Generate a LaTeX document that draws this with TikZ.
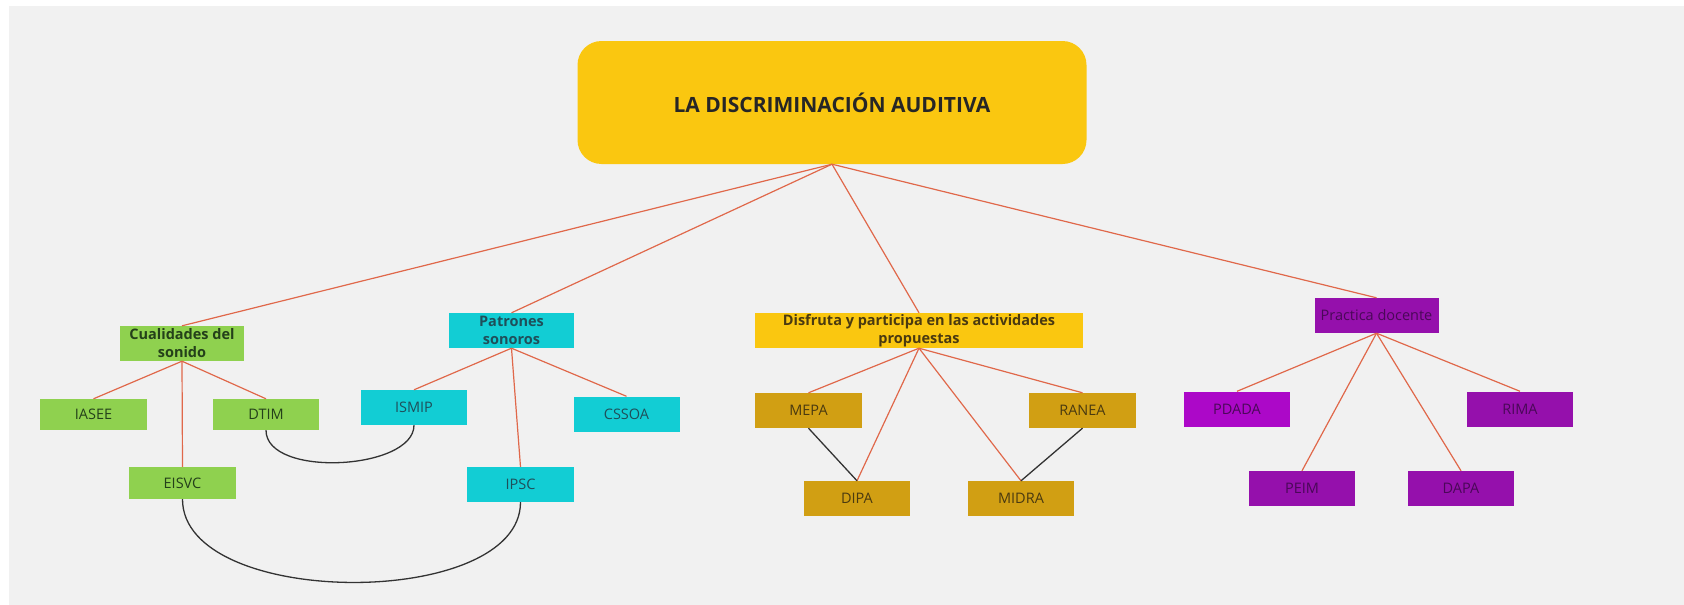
\documentclass[tikz,border=0pt]{standalone}
\usepackage{fontspec}
\setmainfont{Open Sans}
\definecolor{bg}{HTML}{F1F1F1}
\definecolor{myyellow}{HTML}{FAC710}
\definecolor{mygreen}{HTML}{8FD14F}
\definecolor{mycyan}{HTML}{12CDD4}
\definecolor{mygold}{HTML}{D19F13}
\definecolor{mypurple}{HTML}{9510AC}
\definecolor{mypurpleB}{HTML}{AC08C8}
\definecolor{linec}{HTML}{E0684A}
\definecolor{curvec}{HTML}{333333}
\definecolor{tgreen}{HTML}{24401A}
\definecolor{tcyan}{HTML}{1F4F5A}
\definecolor{tgold}{HTML}{4A3A10}
\definecolor{tpurple}{HTML}{4A0858}
\begin{document}
\begin{tikzpicture}[x=1pt,y=-1pt,
  box/.style={draw=none,minimum width=#1,inner sep=1pt,align=center,font=\fontsize{14.5}{18}\selectfont},
  box/.default=106pt,
  gbox/.style={box=#1,fill=mygreen,text=tgreen,minimum height=32pt},
  gbox/.default=106pt,
  cbox/.style={box=#1,fill=mycyan,text=tcyan,minimum height=35pt},
  cbox/.default=106pt,
  ybox/.style={box=#1,fill=mygold,text=tgold,minimum height=35pt},
  ybox/.default=106pt,
  pbox/.style={box=#1,fill=mypurple,text=tpurple,minimum height=35pt},
  pbox/.default=106pt,
  bold/.style={font=\fontsize{14.5}{18}\selectfont\bfseries},
  link/.style={draw=linec,line width=1.2pt},
  curve/.style={draw=curvec,line width=1.3pt}]
\useasboundingbox (0,0) rectangle (1684,605);
\fill[white] (0,0) rectangle (1684,605);
\fill[bg] (9,6) rectangle (1684,605);

\node[fill=myyellow,rounded corners=24pt,minimum width=509pt,minimum height=123pt,
  text=black!85,font=\fontsize{21}{25}\selectfont\bfseries] (main) at (832,102.5) {LA DISCRIMINACIÓN AUDITIVA};

\node[gbox=124pt,bold,minimum height=35pt] (cual) at (182,343.5) {Cualidades del\\sonido};
\node[cbox=125pt,bold] (patr) at (511.5,330.5) {Patrones\\sonoros};
\node[box=328pt,fill=myyellow,text=tgold,bold,minimum height=35pt] (disf) at (919,330.5) {Disfruta y participa en las actividades\\propuestas};
\node[pbox=124pt] (prac) at (1376.5,315.5) {Practica docente};

\node[gbox=107pt,minimum height=31pt] (iasee) at (93.5,414.5) {IASEE};
\node[gbox,minimum height=31pt] (dtim) at (266,414.5) {DTIM};
\node[gbox=107pt] (eisvc) at (182.5,483) {EISVC};

\node[cbox] (ismip) at (414,407.5) {ISMIP};
\node[cbox] (cssoa) at (626.5,414) {CSSOA};
\node[cbox=107pt] (ipsc) at (520.5,484.5) {IPSC};

\node[ybox=107pt] (mepa) at (808.5,410.5) {MEPA};
\node[ybox=107pt] (ranea) at (1082.5,410.5) {RANEA};
\node[ybox] (dipa) at (857,498.5) {DIPA};
\node[ybox] (midra) at (1021,498.5) {MIDRA};

\node[pbox,fill=mypurpleB] (pdada) at (1237,409) {PDADA};
\node[pbox] (rima) at (1520,409) {RIMA};
\node[pbox] (peim) at (1302,488.5) {PEIM};
\node[pbox] (dapa) at (1461,488.5) {DAPA};

% main links
\draw[link] (main.south) -- (cual.north);
\draw[link] (main.south) -- (patr.north);
\draw[link] (main.south) -- (disf.north);
\draw[link] (main.south) -- (prac.north);

\draw[link] (cual.south) -- (iasee.north);
\draw[link] (cual.south) -- (dtim.north);
\draw[link] (cual.south) -- (eisvc.north);

\draw[link] (patr.south) -- (ismip.north);
\draw[link] (patr.south) -- (ipsc.north);
\draw[link] (patr.south) -- (cssoa.north);

\draw[link] (disf.south) -- (mepa.north);
\draw[link] (disf.south) -- (dipa.north);
\draw[link] (disf.south) -- (midra.north);
\draw[link] (disf.south) -- (ranea.north);

\draw[link] (prac.south) -- (pdada.north);
\draw[link] (prac.south) -- (peim.north);
\draw[link] (prac.south) -- (dapa.north);
\draw[link] (prac.south) -- (rima.north);

% black connectors
\draw[curve] (mepa.south) -- (dipa.north);
\draw[curve] (ranea.south) -- (midra.north);
\draw[curve] (dtim.south) .. controls +(0,48) and +(0,45) .. (ismip.south);
\draw[curve] (eisvc.south) .. controls +(0,110) and +(0,108) .. (ipsc.south);
\end{tikzpicture}
\end{document}
